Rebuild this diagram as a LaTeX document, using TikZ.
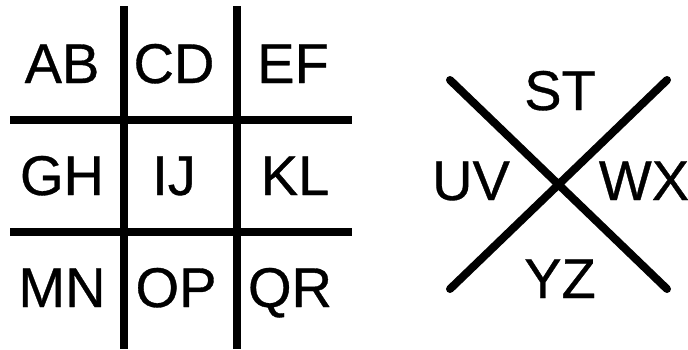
\documentclass[tikz,border=0pt]{standalone}
\usepackage{fontspec}
\setmainfont{Liberation Sans}[FakeBold=0.6]

\begin{document}
\begin{tikzpicture}[x=1pt, y=-1pt,
    every node/.style={font=\fontsize{56}{60}\selectfont, inner sep=0pt, anchor=base},
    bar/.style={line width=8pt},
    cross/.style={line width=8pt, line cap=round}]
  \useasboundingbox (0,0) rectangle (688,349);
  % grid
  \foreach \i/\x in {1/124,2/237} {
    \coordinate (vt\i) at (\x,6);
    \coordinate (vb\i) at (\x,349);
    \draw[bar] (vt\i) -- (vb\i);
  }
  \foreach \i/\y in {1/120,2/232} {
    \coordinate (hl\i) at (10,\y);
    \coordinate (hr\i) at (352,\y);
    \draw[bar] (hl\i) -- (hr\i);
  }
  \foreach \n/\t/\x/\y in {ab/AB/62/83, cd/CD/174/83, ef/EF/293/83,
                           gh/GH/62/195, ij/IJ/174/195, kl/KL/295/195,
                           mn/MN/62/307, op/OP/176/307, qr/QR/290/307}
    \node (\n) at (\x,\y) {\t};
  % cross
  \coordinate (A) at (450,80);
  \coordinate (B) at (667,80);
  \coordinate (C) at (450,289);
  \coordinate (D) at (667,289);
  \draw[cross] (A) -- (D);
  \draw[cross] (B) -- (C);
  \node (st) at (560,110) {ST};
  \node (uv) at (471,200) {UV};
  \node (wx) at (644,200) {WX};
  \node (yz) at (560,298) {YZ};
\end{tikzpicture}
\end{document}
